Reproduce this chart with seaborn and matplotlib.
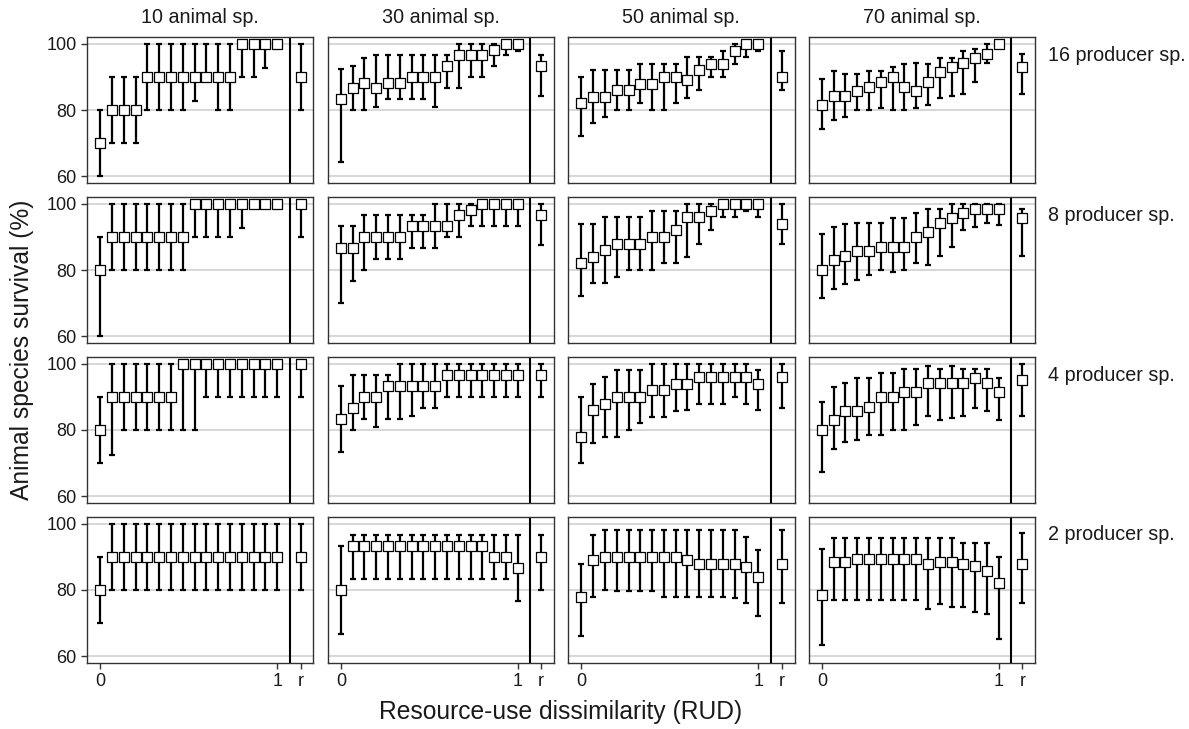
import matplotlib
matplotlib.use("Agg")
import matplotlib.pyplot as plt
import numpy as np
import pandas as pd
import seaborn as sns

# Facet levels
animal_counts = [10, 30, 50, 70]
producer_counts = [16, 8, 4, 2]
# Sixteen RUD levels from 0 to 1, followed by the random-assembly reference "r"
rud_levels = [i / 15 for i in range(16)]
x_tick_labels = ["0", "1", "r"]

# Survival (%) per panel: last entry of each list is the "r" reference
# ---- 16 producer species ----
mid_p16_a10 = [70, 80, 80, 80, 90, 90, 90, 90, 90, 90, 90, 90, 100, 100, 100, 100, 90]
lo_p16_a10 = [60, 70, 70, 70, 80, 80, 80, 80, 82.7, 90, 80, 80, 90, 90, 92.7, 100, 80]
hi_p16_a10 = [80, 90, 90, 90, 100, 100, 100, 100, 100, 100, 100, 100, 100, 100, 100, 100, 100]

mid_p16_a30 = [83.3, 86.7, 88.3, 86.7, 88.3, 88.3, 90, 90, 90, 93.3, 96.7, 96.7, 96.7, 98.3, 100, 100, 93.3]
lo_p16_a30 = [64.3, 80, 80, 81, 83.3, 83.3, 83.3, 83.3, 81, 86.7, 86.7, 90, 90, 93.3, 96.7, 97.8, 84.2]
hi_p16_a30 = [92.5, 93.3, 95.8, 96.7, 96.7, 96.7, 96.7, 96.7, 96.7, 96.7, 100, 100, 100, 100, 100, 100, 96.7]

mid_p16_a50 = [82, 84, 84, 86, 86, 88, 88, 90, 90, 89, 92, 94, 94, 98, 100, 100, 90]
lo_p16_a50 = [72, 76, 78, 80, 80, 82, 80, 80, 82, 83.5, 86, 90, 90, 94, 96, 98, 86]
hi_p16_a50 = [90, 92, 92, 92, 92, 94, 94, 94, 94, 96, 96, 96, 98, 100, 100, 100, 98]

mid_p16_a70 = [81.5, 84.3, 84.3, 85.7, 87.1, 88.6, 90, 87.1, 85.7, 88.6, 91.4, 92.9, 94.3, 95.7, 97.1, 100, 92.9]
lo_p16_a70 = [74.3, 77.1, 78, 80, 80, 80.7, 80, 80, 80.7, 81.4, 83.5, 84.3, 85, 88.6, 94.3, 99, 84.8]
hi_p16_a70 = [89.5, 91.7, 91, 91, 91.7, 91.7, 92.9, 93.8, 94.3, 93.8, 95.7, 95.7, 97.9, 98.6, 100, 100, 97.1]

# ---- 8 producer species ----
mid_p8_a10 = [80, 90, 90, 90, 90, 90, 90, 90, 100, 100, 100, 100, 100, 100, 100, 100, 100]
lo_p8_a10 = [60, 80, 80, 80, 80, 80, 80, 80, 90, 90, 90, 90, 92.7, 100, 100, 100, 90]
hi_p8_a10 = [90, 100, 100, 100, 100, 100, 100, 100, 100, 100, 100, 100, 100, 100, 100, 100, 100]

mid_p8_a30 = [86.7, 86.7, 90, 90, 90, 90, 93.3, 93.3, 93.3, 93.3, 96.7, 98.3, 100, 100, 100, 100, 96.7]
lo_p8_a30 = [70, 76.7, 80, 83.3, 83.3, 83.3, 86.7, 86.7, 86.7, 90, 90, 93.3, 93.3, 93.3, 93.3, 93.3, 87.7]
hi_p8_a30 = [93.3, 93.3, 96.7, 96.7, 96.7, 96.7, 96.7, 96.7, 100, 100, 100, 100, 100, 100, 100, 100, 100]

mid_p8_a50 = [82, 84, 86, 88, 88, 88, 90, 90, 92, 96, 96, 98, 100, 100, 100, 100, 94]
lo_p8_a50 = [72, 76, 76, 78, 80, 80, 80, 82, 82, 84, 88, 92, 96, 96, 98, 96, 88]
hi_p8_a50 = [94, 94, 96, 96, 96, 96, 98, 98, 98, 100, 100, 100, 100, 100, 100, 100, 100]

mid_p8_a70 = [80, 82.9, 84.3, 85.7, 85.7, 87.1, 87.1, 87.1, 90, 91.4, 94.3, 95.7, 97.1, 98.6, 98.6, 98.6, 95.7]
lo_p8_a70 = [71.4, 74.3, 75.7, 77.1, 78.6, 80, 79.5, 80, 82.2, 81.4, 84.3, 87.1, 92.2, 92.9, 94.3, 93.7, 84.3]
hi_p8_a70 = [90.8, 92.9, 93.8, 94.3, 94.3, 94.3, 95.7, 95.7, 97.1, 98.6, 98.6, 100, 100, 100, 100, 100, 98.6]

# ---- 4 producer species ----
mid_p4_a10 = [80, 90, 90, 90, 90, 90, 90, 100, 100, 100, 100, 100, 100, 100, 100, 100, 100]
lo_p4_a10 = [70, 72.5, 80, 80, 80, 80, 80, 80, 80, 90, 90, 90, 90, 90, 90, 90, 90]
hi_p4_a10 = [90, 100, 100, 100, 100, 100, 100, 100, 100, 100, 100, 100, 100, 100, 100, 100, 100]

mid_p4_a30 = [83.3, 86.7, 90, 90, 93.3, 93.3, 93.3, 93.3, 93.3, 96.7, 96.7, 96.7, 96.7, 96.7, 96.7, 96.7, 96.7]
lo_p4_a30 = [73.3, 80, 83.3, 81, 83.3, 83.3, 84.2, 86.7, 86.7, 90, 90, 90, 90, 90, 90, 90, 90]
hi_p4_a30 = [93.3, 96.7, 96.7, 96.7, 96.7, 100, 100, 100, 100, 100, 100, 100, 100, 100, 100, 100, 100]

mid_p4_a50 = [78, 86, 88, 90, 90, 90, 92, 92, 94, 94, 96, 96, 96, 96, 96, 94, 96]
lo_p4_a50 = [70, 76, 78, 78, 80, 82, 84, 84, 85.7, 86, 88, 88, 88, 90, 88, 86, 86.5]
hi_p4_a50 = [90, 94, 96, 98, 98, 98, 100, 100, 100, 100, 100, 100, 100, 100, 100, 98, 100]

mid_p4_a70 = [80, 82.9, 85.7, 85.7, 87.1, 90, 90, 91.4, 91.4, 94.3, 94.3, 94.3, 94.3, 95.7, 94.3, 91.4, 95.2]
lo_p4_a70 = [67.2, 74.3, 76.5, 77.1, 78.6, 78.6, 80, 80, 81.4, 84.3, 83, 83.5, 84.3, 86.5, 85.7, 83, 84.3]
hi_p4_a70 = [88.5, 92.9, 94.3, 95.7, 95.7, 97.1, 97.1, 98.6, 98.6, 99.3, 98.6, 99.5, 98.6, 98.6, 98.6, 95.7, 100]

# ---- 2 producer species ----
mid_p2_a10 = [80, 90, 90, 90, 90, 90, 90, 90, 90, 90, 90, 90, 90, 90, 90, 90, 90]
lo_p2_a10 = [70, 80, 80, 80, 80, 80, 80, 80, 80, 80, 80, 80, 80, 80, 80, 80, 80]
hi_p2_a10 = [90, 100, 100, 100, 100, 100, 100, 100, 100, 100, 100, 100, 100, 100, 100, 100, 100]

mid_p2_a30 = [80, 93.3, 93.3, 93.3, 93.3, 93.3, 93.3, 93.3, 93.3, 93.3, 93.3, 93.3, 93.3, 90, 90, 86.7, 90]
lo_p2_a30 = [66.7, 83.3, 83.3, 83.3, 83.3, 83.3, 83.3, 83.3, 83.3, 83.3, 83.3, 83.3, 83.3, 83.3, 83.3, 76.7, 80]
hi_p2_a30 = [93.3, 96.7, 96.7, 96.7, 96.7, 96.7, 96.7, 96.7, 96.7, 96.7, 96.7, 96.7, 96.7, 96.7, 96.7, 96.7, 96.7]

mid_p2_a50 = [78, 89, 90, 90, 90, 90, 90, 90, 90, 89, 88, 88, 88, 88, 87, 84, 88]
lo_p2_a50 = [66, 78, 80, 79.7, 79.7, 79.7, 79.7, 78, 78, 78, 78, 78, 78, 77.5, 76, 72, 76]
hi_p2_a50 = [88, 96.7, 98, 98, 98, 98, 98, 98, 98, 98, 98, 98, 98, 98, 96, 92, 98]

mid_p2_a70 = [78.5, 88.6, 88.6, 89.5, 89.5, 89.5, 89.5, 89.5, 89.5, 88, 88.6, 88.6, 88, 87.1, 85.7, 82.2, 88]
lo_p2_a70 = [63.3, 77.1, 77.1, 77.1, 77.1, 77.1, 77.1, 77.1, 77.1, 74.3, 75.7, 74.7, 74.7, 73.2, 72.8, 65.2, 76]
hi_p2_a70 = [92.5, 95.7, 95.7, 95.7, 95.7, 95.7, 95.7, 95.7, 95.7, 95.7, 95.7, 95.7, 94.3, 94.3, 94.3, 90, 97.1]

panels = {
    (16, 10): (mid_p16_a10, lo_p16_a10, hi_p16_a10),
    (16, 30): (mid_p16_a30, lo_p16_a30, hi_p16_a30),
    (16, 50): (mid_p16_a50, lo_p16_a50, hi_p16_a50),
    (16, 70): (mid_p16_a70, lo_p16_a70, hi_p16_a70),
    (8, 10): (mid_p8_a10, lo_p8_a10, hi_p8_a10),
    (8, 30): (mid_p8_a30, lo_p8_a30, hi_p8_a30),
    (8, 50): (mid_p8_a50, lo_p8_a50, hi_p8_a50),
    (8, 70): (mid_p8_a70, lo_p8_a70, hi_p8_a70),
    (4, 10): (mid_p4_a10, lo_p4_a10, hi_p4_a10),
    (4, 30): (mid_p4_a30, lo_p4_a30, hi_p4_a30),
    (4, 50): (mid_p4_a50, lo_p4_a50, hi_p4_a50),
    (4, 70): (mid_p4_a70, lo_p4_a70, hi_p4_a70),
    (2, 10): (mid_p2_a10, lo_p2_a10, hi_p2_a10),
    (2, 30): (mid_p2_a30, lo_p2_a30, hi_p2_a30),
    (2, 50): (mid_p2_a50, lo_p2_a50, hi_p2_a50),
    (2, 70): (mid_p2_a70, lo_p2_a70, hi_p2_a70),
}

# Horizontal placement of the reference point and its divider
R_POS = 1.133
DIVIDER = 1.07

records = []
for (p, a), (mid, lo, hi) in panels.items():
    xs = rud_levels + [R_POS]
    for x, m, l, h in zip(xs, mid, lo, hi):
        records.append({"producers": p, "animals": a, "x": x, "mid": m, "lo": l, "hi": h})
df = pd.DataFrame(records)

sns.set_theme(style="white")
plt.rcParams["font.family"] = ["Liberation Sans", "DejaVu Sans"]

INK = "#1a1a1a"
FRAME = "#333333"


def draw_panel(data, **kwargs):
    ax = plt.gca()
    ax.errorbar(data["x"], data["mid"],
                yerr=[data["mid"] - data["lo"], data["hi"] - data["mid"]],
                fmt="none", ecolor="black", elinewidth=1.6,
                capsize=2.0, capthick=1.6, zorder=3)
    sns.scatterplot(data=data, x="x", y="mid", marker="s", s=48,
                    color="white", edgecolor="black", linewidth=0.9,
                    zorder=4, legend=False, ax=ax)
    ax.axvline(DIVIDER, color="black", lw=1.5, zorder=2)


g = sns.FacetGrid(df, row="producers", col="animals",
                  row_order=producer_counts, col_order=animal_counts,
                  sharex=True, sharey=True, despine=False,
                  height=1.8, aspect=1.5)
g.map_dataframe(draw_panel)
g.set_titles("")
g.set_axis_labels("", "")

fig = g.figure
fig.set_size_inches(11.89, 7.29)
fig.subplots_adjust(left=0.0732, right=0.8705, top=0.9488, bottom=0.091,
                    wspace=0.0623, hspace=0.1)

for i, p in enumerate(producer_counts):
    for j, a in enumerate(animal_counts):
        ax = g.axes[i, j]
        ax.set_xlim(-0.075, 1.205)
        ax.set_ylim(58, 102)
        ax.set_yticks([60, 80, 100])
        ax.set_xticks([0, 1, R_POS])
        ax.set_xticklabels(x_tick_labels)
        ax.set_axisbelow(True)
        ax.grid(axis="y", color="#d4d4d4", lw=1.3)
        ax.grid(axis="x", visible=False)
        for sp in ax.spines.values():
            sp.set_color(FRAME)
            sp.set_linewidth(1.0)
        ax.tick_params(axis="both", direction="out", length=4.5, width=1.0,
                       color=FRAME, labelsize=13, labelcolor=INK, pad=3)
        ax.tick_params(axis="y", left=(j == 0), labelleft=(j == 0))
        ax.tick_params(axis="x", bottom=(i == len(producer_counts) - 1),
                       labelbottom=(i == len(producer_counts) - 1))
        ax.set_xlabel("")
        ax.set_ylabel("")
        if i == 0:
            ax.text(0.5, 1.133, f"{a} animal sp.", transform=ax.transAxes,
                    ha="center", va="center", fontsize=14.2, color=INK)
        if j == len(animal_counts) - 1:
            ax.text(1.057, 0.878, f"{p} producer sp.", transform=ax.transAxes,
                    ha="left", va="center", fontsize=14.2, color=INK)

fig.text(22 / 1189, 1 - 350 / 729, "Animal species survival (%)",
         rotation=90, ha="center", va="center", fontsize=17.7, color=INK)
fig.text(561 / 1189, 1 - 712 / 729, "Resource-use dissimilarity (RUD)",
         ha="center", va="center", fontsize=17.7, color=INK)

fig.savefig("out.png", dpi=100)
